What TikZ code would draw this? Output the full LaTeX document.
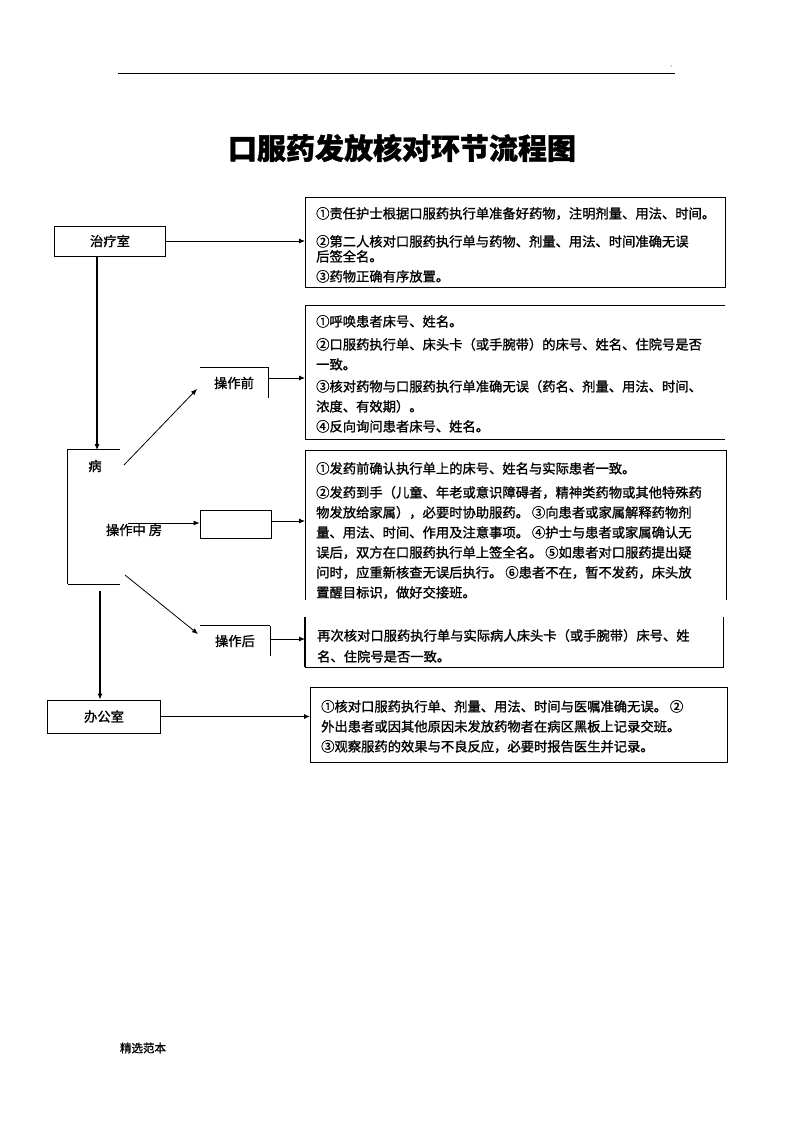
\documentclass[tikz,border=0pt]{standalone}
\usepackage{fontspec}
\setmainfont{Noto Sans CJK SC}[FakeBold=1.2]
\usetikzlibrary{arrows.meta}
\begin{document}
\begin{tikzpicture}[x=1pt,y=-1pt]
\tikzset{
  border/.style={line width=0.8pt},
  arr/.style={line width=0.8pt,-{Latex[length=6pt,width=5pt]}},
  thickarr/.style={line width=1.1pt,-{Latex[length=6pt,width=5pt]}},
  txt/.style={anchor=north west,inner sep=0pt,align=left},
  area/.style={inner sep=0pt},
  lbl/.style={inner sep=0pt,font=\fontsize{13.3}{15}\selectfont},
}
\useasboundingbox (0,0) rectangle (794,1123);
\fill[white] (0,0) rectangle (794,1123);

% header rule
\draw[line width=0.9pt] (118,73) -- (675,73);
\fill (671,66) circle (0.5);

% title
\node[inner sep=0pt,font=\fontsize{29}{29}\selectfont\bfseries] (title) at (402,148) {口服药发放核对环节流程图};

% left column nodes
\node[area,draw,border,minimum width=111,minimum height=30,font=\fontsize{13.3}{15}\selectfont] (zls) at (110,241) {治疗室};
\node[area,minimum width=52,minimum height=134] (ward) at (94,517) {};
\draw[border] (ward.north east) -- (ward.north west) -- (ward.south west);
\draw[line width=1.3pt] (ward.south west) -- (ward.south east);
\node[lbl] (bing) at (95,466) {病};
\node[lbl] (czzf) at (134,530) {操作中 房};
\node[area,draw,border,minimum width=113,minimum height=33,font=\fontsize{13.3}{15}\selectfont] (office) at (104,716.5) {办公室};

% middle column
\node[area,minimum width=68,minimum height=30,font=\fontsize{13.3}{15}\selectfont] (pre) at (234,383) {操作前};
\draw[border] (pre.north west) -- (pre.north east) -- (pre.south east);
\node[area,draw,border,minimum width=71,minimum height=28] (mid) at (235.5,524) {};
\node[area,minimum width=70,minimum height=30,font=\fontsize{13.3}{15}\selectfont] (post) at (235,641) {操作后};
\draw[line width=1.1pt] (post.north west) -- (post.north east);
\draw[border] (post.north east) -- (post.south east);

% right boxes
\node[area,minimum width=420,minimum height=90,anchor=north west] (b1) at (305,197) {};
\draw[border] (b1.north west) rectangle (b1.south east);
\node[txt,font=\fontsize{13.3}{15}\selectfont] (t1) at (316,207) {①责任护士根据口服药执行单准备好药物，注明剂量、用法、时间。\\[13pt]
②第二人核对口服药执行单与药物、剂量、用法、时间准确无误\\
后签全名。\\[5pt]
③药物正确有序放置。};

\node[area,minimum width=420,minimum height=134,anchor=north west] (b2) at (305,305) {};
\draw[border] (b2.north east) -- (b2.north west) -- (b2.south west) -- (b2.south east);
\node[txt,font=\fontsize{13.3}{20}\selectfont] (t2) at (316,315) {①呼唤患者床号、姓名。\\[3pt]
②口服药执行单、床头卡（或手腕带）的床号、姓名、住院号是否\\
一致。\\[2pt]
③核对药物与口服药执行单准确无误（药名、剂量、用法、时间、\\
浓度、有效期）。\\
④反向询问患者床号、姓名。};

\node[area,minimum width=421,minimum height=150,anchor=north west] (b3) at (305,450) {};
\draw[border] (b3.south west) -- (b3.north west) -- (b3.north east) -- (b3.south east);
\node[txt,font=\fontsize{13.3}{20}\selectfont] (t3) at (316,462) {①发药前确认执行单上的床号、姓名与实际患者一致。\\[4pt]
②发药到手（儿童、年老或意识障碍者，精神类药物或其他特殊药\\
物发放给家属），必要时协助服药。 ③向患者或家属解释药物剂\\
量、用法、时间、作用及注意事项。 ④护士与患者或家属确认无\\
误后，双方在口服药执行单上签全名。 ⑤如患者对口服药提出疑\\
问时，应重新核查无误后执行。 ⑥患者不在，暂不发药，床头放\\
置醒目标识，做好交接班。};

\node[area,minimum width=418,minimum height=50,anchor=north west] (b4) at (305,617) {};
\draw[line width=1.3pt] (b4.north west) -- (b4.south west);
\draw[border] (b4.south west) -- (b4.south east) -- (b4.north east);
\node[txt,font=\fontsize{13.3}{21}\selectfont] (t4) at (317,629) {再次核对口服药执行单与实际病人床头卡（或手腕带）床号、姓\\
名、住院号是否一致。};

\node[area,minimum width=417,minimum height=75,anchor=north west] (b5) at (310,687) {};
\draw[border] (b5.north west) rectangle (b5.south east);
\node[txt,font=\fontsize{13.3}{20}\selectfont] (t5) at (321,700) {①核对口服药执行单、剂量、用法、时间与医嘱准确无误。 ②\\
外出患者或因其他原因未发放药物者在病区黑板上记录交班。\\
③观察服药的效果与不良反应，必要时报告医生并记录。};

% connectors
\coordinate (wtop) at (97,450);
\coordinate (wbot) at (100,591);
\coordinate (d1s) at (124,465);
\coordinate (d1e) at (197,389);
\coordinate (ms) at (128,523);
\coordinate (d2s) at (125,575);
\coordinate (d2e) at (198,634);

\draw[arr] (zls.east) -- (zls.east -| b1.west);
\draw[thickarr] (zls.south -| wtop) -- (wtop);
\draw[arr] (d1s) -- (d1e);
\draw[arr] (ms) -- (ms -| mid.west);
\draw[arr] (d2s) -- (d2e);
\draw[arr] ([yshift=5pt]pre.east) -- ([yshift=5pt]pre.east -| b2.west);
\draw[arr] ([yshift=3pt]mid.east) -- ([yshift=3pt]mid.east -| b3.west);
\draw[arr] ([yshift=2pt]post.east) -- ([yshift=2pt]post.east -| b4.west);
\draw[thickarr] (wbot) -- (wbot |- office.north);
\draw[arr] (office.east) -- (office.east -| b5.west);

% footer
\node[inner sep=0pt,font=\fontsize{11.5}{12}\selectfont] (foot) at (143,1048) {精选范本};
\end{tikzpicture}
\end{document}
